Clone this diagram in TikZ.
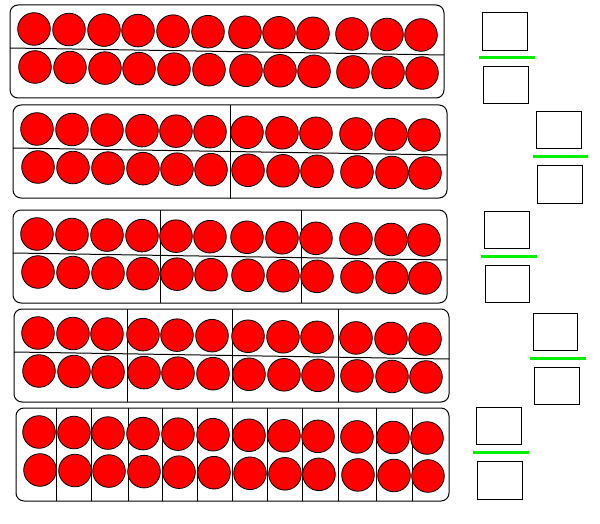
\documentclass[tikz,border=0pt]{standalone}
\usetikzlibrary{calc}
\definecolor{bargreen}{RGB}{0,240,0}
\tikzset{
  frame/.style={draw=black, line width=1pt, rounded corners=8pt},
  bead/.style={draw=black, line width=0.8pt, fill=red},
  sep/.style={draw=black, line width=1pt},
  ansbox/.style={draw=black, line width=1pt},
  bar/.style={draw=bargreen, line width=3pt},
}
\begin{document}
\begin{tikzpicture}[x=1pt,y=-1pt]
\useasboundingbox (0,0) rectangle (600,524);
% panel frames
\draw[frame] (10,5) rectangle (444,98);
\draw[frame] (13,105) rectangle (447,198);
\draw[frame] (13,210) rectangle (447,303);
\draw[frame] (14,309) rectangle (449,402);
\draw[frame] (16,408) rectangle (449,501);
% separators
\draw[sep] (10,48) -- (444,55);
\draw[sep] (13,148) -- (447,155);
\draw[sep] (230,105) -- (230,199);
\draw[sep] (13,253) -- (447,260);
\foreach \v in {160,301} \draw[sep] (\v,210) -- (\v,303);
\draw[sep] (14,352) -- (449,359);
\foreach \v in {127,232,338} \draw[sep] (\v,309) -- (\v,402);
\foreach \v in {56,91,128,162,197,232,267,302,338,376,412} \draw[sep] (\v,408) -- (\v,501);
% beads
\foreach \x in {34,69,104,138,173,208,245,279,313,352,387,421}{
  \path[bead] (\x,{29+(\x-34)*0.0155}) circle (16.3);
  \path[bead] (\x+1,{67+(\x-34)*0.0155}) circle (16.3);
}
\foreach \x in {37,72,107,142,176,210,247,282,316,356,391,424}{
  \path[bead] (\x,{129+(\x-37)*0.0155}) circle (16.3);
  \path[bead] (\x+1,{167+(\x-37)*0.0155}) circle (16.3);
  \path[bead] (\x,{234+(\x-37)*0.0155}) circle (16.3);
  \path[bead] (\x+1,{272+(\x-37)*0.0155}) circle (16.3);
}
\foreach \x in {38,73,107,143,177,212,248,283,317,356,391,425}{
  \path[bead] (\x,{333+(\x-38)*0.0155}) circle (16.3);
  \path[bead] (\x+1,{371+(\x-38)*0.0155}) circle (16.3);
}
\foreach \x in {39,74,108,143,178,213,249,284,318,357,393,427}{
  \path[bead] (\x,{432+(\x-39)*0.0155}) circle (16.3);
  \path[bead] (\x+1,{470+(\x-39)*0.0155}) circle (16.3);
}
% fraction boxes
\draw[ansbox] (482,13) rectangle (527,51);
\draw[bar] (479,58) -- (535,58);
\draw[ansbox] (483,67) rectangle (528,104);

\draw[ansbox] (536,112) rectangle (581,149);
\draw[bar] (533,157) -- (588,157);
\draw[ansbox] (537,166) rectangle (582,203);

\draw[ansbox] (484,211) rectangle (529,248);
\draw[bar] (481,256) -- (537,256);
\draw[ansbox] (485,265) rectangle (529,302);

\draw[ansbox] (533,313) rectangle (577,350);
\draw[bar] (530,358) -- (586,358);
\draw[ansbox] (534,367) rectangle (579,404);

\draw[ansbox] (476,407) rectangle (521,444);
\draw[bar] (473,452) -- (529,452);
\draw[ansbox] (477,461) rectangle (522,499);
\end{tikzpicture}
\end{document}
